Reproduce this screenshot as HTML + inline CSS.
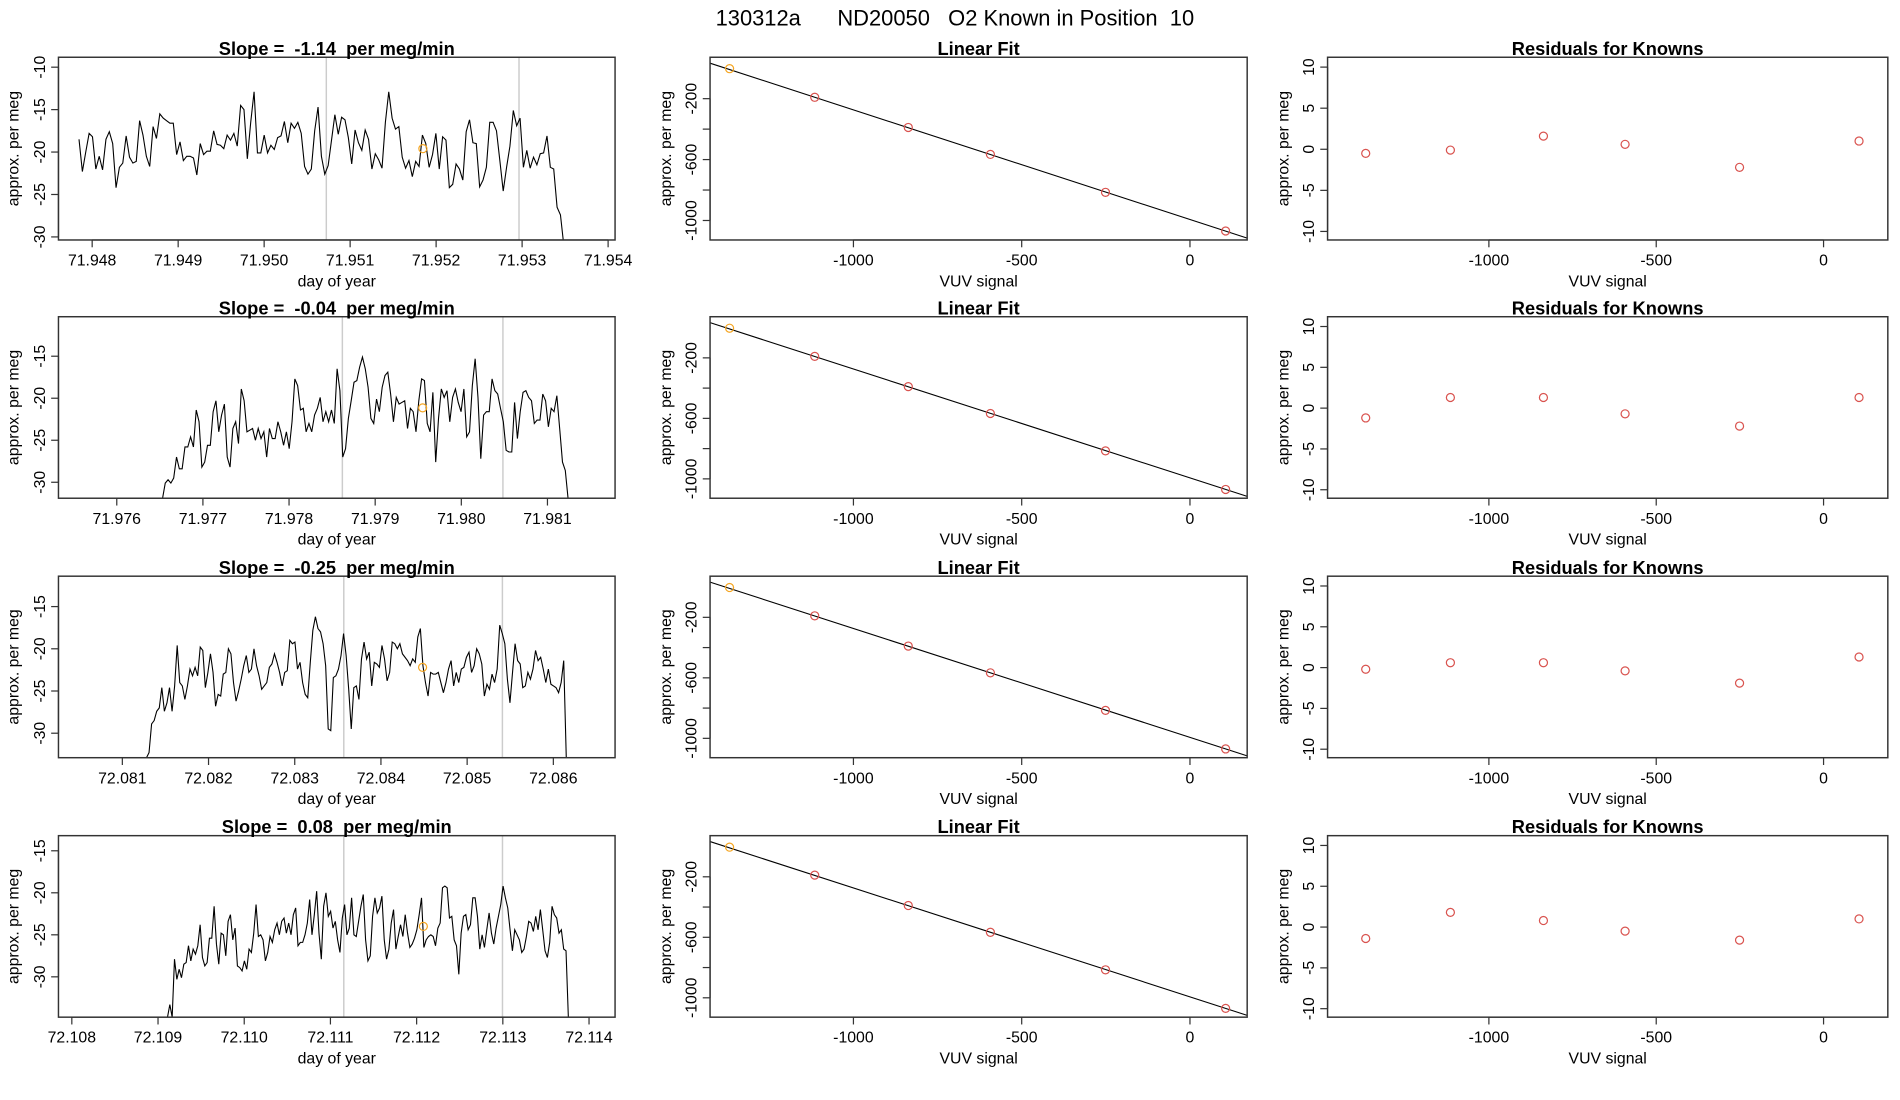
<!DOCTYPE html>
<html><head><meta charset="utf-8"><title>130312a ND20050 O2 Known</title>
<style>html,body{margin:0;padding:0;background:#fff}svg{display:block}text{font-family:"Liberation Sans",sans-serif;fill:#000}</style>
</head><body>
<svg id="chart" width="1900" height="1100" viewBox="0 0 1560 903" preserveAspectRatio="none" xmlns="http://www.w3.org/2000/svg">
<text x="784" y="21" font-size="18" text-anchor="middle" style="white-space:pre">130312a      ND20050   O2 Known in Position  10</text>
</svg>
<script>
// ---- data ----
const slopes = ["-1.14","-0.04","-0.25","0.08"];
const ts1 = [-18.5,-22.3,-20,-17.8,-18.2,-22,-20.5,-22.1,-18.5,-17.6,-19,-24.2,-21.8,-21.3,-18.1,-20.6,-21.3,-21.1,-16.3,-18,-20.5,-21.7,-17,-18.4,-15.5,-16,-16.3,-16.6,-16.6,-20.3,-18.8,-21,-20.5,-20.5,-20.7,-22.7,-19,-20.3,-19.9,-19.9,-17.5,-19.1,-19.2,-19.6,-18,-18.6,-17.8,-19.3,-14.5,-15,-20.8,-16.5,-12.9,-20.1,-20.1,-18,-20.1,-19.2,-19.7,-18.3,-18.1,-16.4,-18.9,-16.6,-17.2,-16.5,-17.8,-21.7,-22.6,-22,-17.5,-14.7,-20.5,-22.6,-21.6,-18.6,-15.6,-17.9,-15.9,-16.2,-18.3,-21.4,-17.4,-18.9,-19.8,-17.4,-18.5,-22,-20.2,-20.9,-21.9,-16.5,-12.9,-16,-17.3,-17,-20.6,-21.9,-21,-22.9,-21.1,-21.7,-18,-19,-21.8,-20.3,-17.8,-22,-18.2,-18.6,-24.2,-23.8,-21.4,-22,-23.3,-17.6,-16.2,-18.9,-19,-24.1,-23.3,-21.8,-16.5,-16.5,-17.5,-21,-24.6,-21.8,-19.3,-15.1,-16.9,-16,-21.8,-19.8,-21.9,-20.6,-21.5,-20.2,-20.1,-18.1,-21.8,-22,-26.5,-27.4,-31];
const ts2 = [-32,-30.1,-29.7,-30.1,-29.5,-27,-28.4,-28.4,-25.8,-25.8,-24.6,-25.8,-21.4,-22.8,-28.2,-27.6,-25.6,-25.6,-21.6,-20.3,-24,-22,-20.7,-27,-28.2,-23.6,-22.8,-25.4,-18.9,-20.3,-24,-23.8,-23.6,-25,-23.6,-24.8,-24,-27,-23.6,-24.8,-24.8,-22.8,-24,-25.6,-24,-26,-22.8,-17.7,-18.5,-21.4,-21.2,-24,-23,-24,-22,-21.2,-19.9,-22.8,-21.6,-22.8,-21.4,-23,-16.5,-19.1,-27,-26,-22.4,-20.3,-18.1,-17.9,-16.3,-15.1,-16.5,-18.7,-22.4,-23,-20.1,-21.6,-18.7,-17.3,-16.9,-19.5,-22.8,-19.9,-20.7,-20.5,-20.3,-23.6,-21.2,-21.6,-24,-20.3,-17.7,-17.9,-23,-24,-19.3,-27.6,-22.4,-18.9,-19.9,-19.1,-22.8,-19.9,-18.9,-20.5,-21.6,-18.9,-24.6,-24,-18.5,-15.3,-19.9,-27.2,-22,-21.6,-21.6,-17.7,-19.1,-19.5,-21.2,-22.8,-26.2,-26.4,-26.4,-20.5,-24.8,-21.6,-19.3,-19.1,-19.9,-20.3,-23,-22.6,-22.6,-19.5,-20.3,-23.4,-21.2,-21.6,-19.7,-23.6,-27.6,-28.6,-32];
const ts3 = [-32.9,-32.3,-28.9,-28.5,-27.4,-27,-24.6,-27.4,-26.4,-24.6,-27.4,-24.4,-19.6,-24,-24.4,-26,-24.4,-22.4,-23.2,-22.2,-23.2,-19.8,-20.2,-24.6,-22.8,-20.6,-22.8,-26.8,-25.4,-25.6,-23,-22.8,-20,-20.6,-24,-26.2,-25,-23.6,-22,-20.8,-22.8,-22.4,-20,-22,-23.2,-24.8,-24.4,-24,-22.2,-21.8,-20.6,-21.6,-22.8,-24.4,-22.8,-22.6,-19,-19.4,-19.2,-22.4,-21.6,-24,-25.4,-25.8,-21.6,-17.8,-16.2,-17.6,-18,-19.4,-22,-29.5,-29.7,-23.4,-23.2,-22.4,-20.8,-18.2,-20.8,-24.8,-29.5,-24.6,-24.4,-26,-21.2,-19.2,-21.2,-20.4,-24.4,-21.6,-21.8,-22.2,-19.6,-21.2,-23.8,-22.8,-19.2,-19.4,-20,-19.4,-20.6,-21,-21.4,-22,-21.2,-21.6,-18.6,-17.6,-22,-24,-25.6,-22.8,-23,-23,-22.8,-24,-25.2,-24,-22.4,-21.4,-24.4,-22.8,-24,-22.4,-22.2,-21,-20.4,-22.8,-22,-20,-20.6,-21.8,-25.6,-24.2,-24.8,-23,-24,-22.4,-17.2,-18.2,-19.4,-23.6,-26.4,-22.8,-19.4,-21.4,-21.8,-24.6,-24.4,-22.8,-23.6,-22.4,-20.2,-21.4,-21,-22.4,-24,-22.4,-24.2,-24.4,-24.6,-25.2,-24,-21.4,-32.9];
const ts4 = [-34.8,-33.3,-34.8,-27.9,-30.3,-29.1,-30.1,-28.5,-28.3,-26.3,-28.1,-26.7,-27.3,-26.3,-23.8,-27.7,-28.7,-28.3,-25.4,-25.4,-21.6,-26.1,-28.5,-24.8,-25,-27.5,-23.4,-22.6,-25.6,-24.2,-28.7,-28.9,-29.3,-28.1,-29.1,-26.7,-27.1,-24.8,-21.4,-25.2,-25,-25.6,-28.1,-27.1,-25.2,-25.9,-24.4,-23.6,-25,-23.4,-23,-24.8,-23.6,-25,-22.6,-21.8,-26.3,-25.9,-25.9,-25,-23.6,-20.8,-25,-22.6,-19.8,-24.8,-27.9,-21.6,-20,-22.8,-22.2,-24.2,-23.4,-25.6,-27.1,-23,-21.4,-25,-24.2,-20.6,-25,-25.2,-23.4,-21.6,-20.2,-25.6,-28.1,-27.5,-22.8,-20.6,-22.4,-21.8,-20.4,-25.6,-27.9,-26.7,-23.6,-22,-26.7,-25.2,-23.8,-25.2,-22.6,-24.8,-26.5,-26.1,-25.4,-24.4,-22.6,-20.6,-26.5,-25.6,-25.2,-25,-25.2,-26.3,-24.2,-23.6,-19.4,-19.2,-19.4,-23,-22.8,-25.6,-26.3,-29.7,-24.8,-22.8,-22.6,-24.4,-23.8,-20.6,-20.6,-22.8,-26.7,-25,-26.5,-24.4,-22.4,-24.8,-26.1,-24.2,-22.8,-21.4,-19.2,-20.6,-21.8,-24.4,-26.9,-24.4,-25,-25.6,-27.1,-26.7,-25.2,-23.4,-23.6,-24.6,-22.8,-24.4,-22,-24.4,-26.9,-27.7,-25.9,-21.6,-22.6,-23,-24.8,-24.4,-26.7,-26.9,-34.8];
const tsSeries = [ts1, ts2, ts3, ts4];
const tsStart = [71.947847, 71.976530, 72.081280, 72.109110];
const tsEnd = [71.953485, 71.981240, 72.086150, 72.113760];
const tsXMin = [71.947608, 71.975323, 72.080259, 72.107845];
const tsXMax = [71.954081, 71.981785, 72.086716, 72.114302];
const tsYMin = [-30.36, -31.9, -32.9, -34.8];
const tsYMax = [-8.83, -10.3, -11.4, -13.2];
const tsXTicks = [
  ["71.948","71.949","71.950","71.951","71.952","71.953","71.954"],
  ["71.976","71.977","71.978","71.979","71.980","71.981"],
  ["72.081","72.082","72.083","72.084","72.085","72.086"],
  ["72.108","72.109","72.110","72.111","72.112","72.113","72.114"]];
const tsYTicks = [[-10,-15,-20,-25,-30],[-15,-20,-25,-30],[-15,-20,-25,-30],[-15,-20,-25,-30]];
const grayLines = [[71.950723,71.952964],[71.978619,71.980483],[72.083569,72.085409],[72.111155,72.112996]];
const orangeT = [71.951846, 71.979551, 72.084483, 72.112078];
const orangeV = [-19.6, -21.15, -22.2, -24.0];

const vuv = [-1368,-1115,-837,-593,-251,106];
const fitY = [[-3,-191,-389,-566,-815,-1069],[-4,-190,-390,-568,-815,-1070],[-3,-190,-390,-567,-815,-1070],[-4,-189,-390,-567,-815,-1070]];
const lineX = [-1426, 170];
const lineY = [33, -1116];
const resid = [[-0.5,-0.1,1.6,0.6,-2.2,1.0],[-1.2,1.3,1.3,-0.7,-2.2,1.3],[-0.2,0.6,0.6,-0.4,-1.9,1.3],[-1.4,1.8,0.8,-0.5,-1.6,1.0]];
const vuvTicks = [-1000,-500,0];
const fitYTicks = [-200,-400,-600,-800,-1000];
const fitYLabels = [-200,-600,-1000];
const resTicks = [10,5,0,-5,-10];

// ---- layout ----
const svg = document.getElementById('chart');
const NS = 'http://www.w3.org/2000/svg';
const rowsY = [[47,197],[260,409],[473,622],[686,835]];
const cols = [[48,505],[583,1024],[1090,1550]];
function mk(tag, attrs, parent){const e=document.createElementNS(NS,tag);for(const k in attrs)e.setAttribute(k,attrs[k]);(parent||svg).appendChild(e);return e;}
function txt(s, attrs, parent){const e=mk('text',attrs,parent);e.textContent=s;return e;}
const scale=(d0,d1,r0,r1)=>v=>r0+(v-d0)/(d1-d0)*(r1-r0);
const defs = mk('defs',{});

for(let r=0;r<4;r++){
  const [top,bot]=rowsY[r];
  {
    const [l,rr]=cols[0];
    const g=mk('g',{});
    
    
    const xs=scale(tsXMin[r],tsXMax[r],l,rr), ys=scale(tsYMin[r],tsYMax[r],bot,top);
    const cp=mk('clipPath',{id:'cp'+r},defs); mk('rect',{x:l,y:top,width:rr-l,height:bot-top},cp);
    grayLines[r].forEach((t,i)=>{const ln=mk('line',{x1:xs(t),x2:xs(t),y1:top,y2:bot,stroke:'#cccccc','stroke-width':1.2},g);
      
      });
    const data=tsSeries[r]; const n=data.length;
    const pts=data.map((v,i)=>{const t=tsStart[r]+(tsEnd[r]-tsStart[r])*i/(n-1);return xs(t).toFixed(2)+','+ys(v).toFixed(2);}).join(' ');
    const pl=mk('polyline',{points:pts,fill:'none',stroke:'#000','stroke-width':0.9,'clip-path':'url(#cp'+r+')'},g);
    
    
    const oc=mk('circle',{cx:xs(orangeT[r]),cy:ys(orangeV[r]),r:3.3,fill:'none',stroke:'#f5a623','stroke-width':1},g);
    
    
    const bx=mk('rect',{x:l,y:top,width:rr-l,height:bot-top,fill:'none',stroke:'#333','stroke-width':1.2},g);
    
    
    const tk=tsXTicks[r];
    const x0=xs(parseFloat(tk[0])), x1=xs(parseFloat(tk[tk.length-1]));
    mk('line',{x1:x0,x2:x1,y1:bot,y2:bot,stroke:'#333','stroke-width':1},g);
    tk.forEach(s=>{const x=xs(parseFloat(s));mk('line',{x1:x,x2:x,y1:bot,y2:bot+6,stroke:'#333'},g);
      const t=txt(s,{x:x,y:bot+21,'font-size':13,'text-anchor':'middle'},g);
      
      });
    const yt=tsYTicks[r];
    mk('line',{x1:l,x2:l,y1:ys(yt[0]),y2:ys(yt[yt.length-1]),stroke:'#333'},g);
    yt.forEach(v=>{const y=ys(v);mk('line',{x1:l-6,x2:l,y1:y,y2:y,stroke:'#333'},g);
      const t=txt(String(v),{x:0,y:0,'font-size':13,'text-anchor':'middle',transform:`translate(${l-11},${y}) rotate(-90)`},g);
      
      });
    const tt=txt(`Slope =  ${slopes[r]}  per meg/min`,{x:(l+rr)/2,y:top-2,'font-size':15,'font-weight':'bold','text-anchor':'middle',style:'white-space:pre'},g);
    
    
    const xl=txt('day of year',{x:(l+rr)/2,y:bot+38,'font-size':13,'text-anchor':'middle'},g);
    
    
    const yl=txt('approx. per meg',{x:0,y:0,'font-size':13,'text-anchor':'middle',transform:`translate(15,${(top+bot)/2}) rotate(-90)`},g);
    
    
  }
  {
    const [l,rr]=cols[1];
    const g=mk('g',{});
    
    
    const xs=scale(-1426,170,l,rr), ys=scale(-1128,72,bot,top);
    const fl=mk('line',{x1:xs(lineX[0]),y1:ys(lineY[0]),x2:xs(lineX[1]),y2:ys(lineY[1]),stroke:'#000','stroke-width':0.9},g);
    
    
    vuv.forEach((x,i)=>{const c=mk('circle',{cx:xs(x),cy:ys(fitY[r][i]),r:3.3,fill:'none',stroke:i===0?'#f5a623':'#d9534f','stroke-width':1},g);
      
      });
    mk('rect',{x:l,y:top,width:rr-l,height:bot-top,fill:'none',stroke:'#333','stroke-width':1.2},g);
    mk('line',{x1:xs(-1000),x2:xs(0),y1:bot,y2:bot,stroke:'#333'},g);
    vuvTicks.forEach(v=>{const x=xs(v);mk('line',{x1:x,x2:x,y1:bot,y2:bot+6,stroke:'#333'},g);
      const t=txt(String(v),{x:x,y:bot+21,'font-size':13,'text-anchor':'middle'},g);
      
      });
    mk('line',{x1:l,x2:l,y1:ys(-200),y2:ys(-1000),stroke:'#333'},g);
    fitYTicks.forEach(v=>{const y=ys(v);mk('line',{x1:l-6,x2:l,y1:y,y2:y,stroke:'#333'},g);});
    fitYLabels.forEach(v=>{const y=ys(v);
      const t=txt(String(v),{x:0,y:0,'font-size':13,'text-anchor':'middle',transform:`translate(${l-11},${y}) rotate(-90)`},g);
      
      });
    const tt=txt('Linear Fit',{x:(l+rr)/2,y:top-2,'font-size':15,'font-weight':'bold','text-anchor':'middle'},g);
    
    
    const xl=txt('VUV signal',{x:(l+rr)/2,y:bot+38,'font-size':13,'text-anchor':'middle'},g);
    
    
    const yl=txt('approx. per meg',{x:0,y:0,'font-size':13,'text-anchor':'middle',transform:`translate(${l-32},${(top+bot)/2}) rotate(-90)`},g);
    
    
  }
  {
    const [l,rr]=cols[2];
    const g=mk('g',{});
    
    
    const xs=scale(-1482,192,l,rr), ys=scale(-11.04,11.2,bot,top);
    vuv.forEach((x,i)=>{const c=mk('circle',{cx:xs(x),cy:ys(resid[r][i]),r:3.3,fill:'none',stroke:'#d9534f','stroke-width':1},g);
      
      });
    mk('rect',{x:l,y:top,width:rr-l,height:bot-top,fill:'none',stroke:'#333','stroke-width':1.2},g);
    mk('line',{x1:xs(-1000),x2:xs(0),y1:bot,y2:bot,stroke:'#333'},g);
    vuvTicks.forEach(v=>{const x=xs(v);mk('line',{x1:x,x2:x,y1:bot,y2:bot+6,stroke:'#333'},g);
      const t=txt(String(v),{x:x,y:bot+21,'font-size':13,'text-anchor':'middle'},g);
      
      });
    mk('line',{x1:l,x2:l,y1:ys(10),y2:ys(-10),stroke:'#333'},g);
    resTicks.forEach(v=>{const y=ys(v);mk('line',{x1:l-6,x2:l,y1:y,y2:y,stroke:'#333'},g);
      const t=txt(String(v),{x:0,y:0,'font-size':13,'text-anchor':'middle',transform:`translate(${l-11},${y}) rotate(-90)`},g);
      
      });
    const tt=txt('Residuals for Knowns',{x:(l+rr)/2,y:top-2,'font-size':15,'font-weight':'bold','text-anchor':'middle'},g);
    
    
    const xl=txt('VUV signal',{x:(l+rr)/2,y:bot+38,'font-size':13,'text-anchor':'middle'},g);
    
    
    const yl=txt('approx. per meg',{x:0,y:0,'font-size':13,'text-anchor':'middle',transform:`translate(${l-32},${(top+bot)/2}) rotate(-90)`},g);
    
    
  }
}
</script>
</body></html>
